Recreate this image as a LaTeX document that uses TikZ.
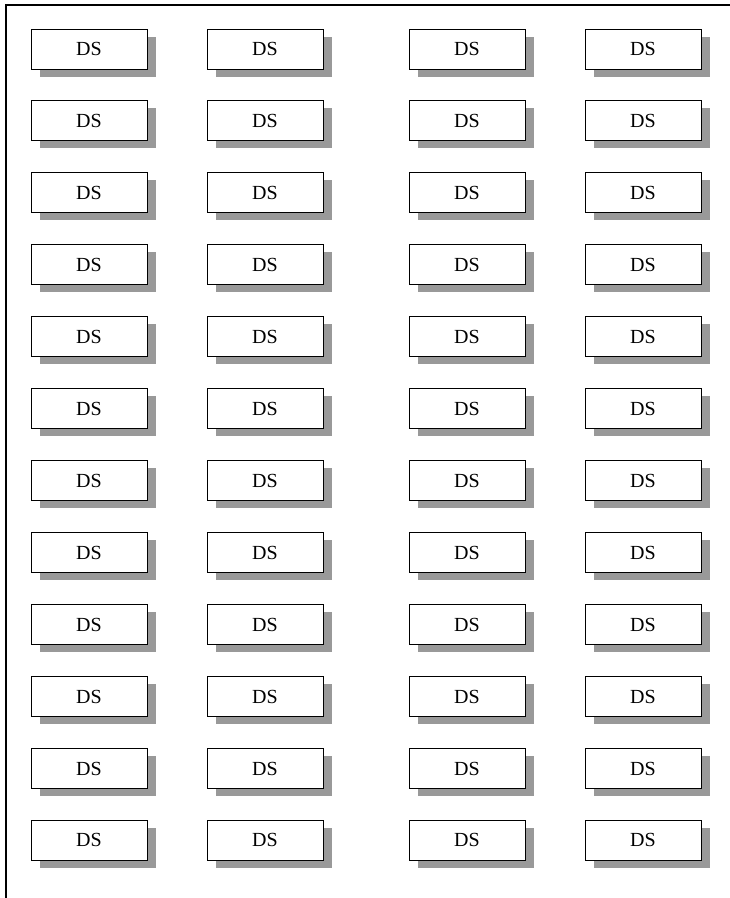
\documentclass[tikz,border=0pt]{standalone}
\usepackage{fontspec}
\setmainfont{Liberation Serif}
\usetikzlibrary{shadows}

\begin{document}
\begin{tikzpicture}[x=1pt,y=-1pt,
  dsbox/.style={draw,line width=1pt,fill=white,minimum width=116pt,minimum height=40pt,inner sep=0pt,
    font=\fontsize{20}{22}\selectfont,
    drop shadow={shadow xshift=9pt,shadow yshift=-7.5pt,fill=black!40,opacity=1}},
  frameline/.style={line width=1.2pt}]
\useasboundingbox (0,0) rectangle (730,898);
\coordinate (fbot) at (6,898);
\coordinate (fcorner) at (6,5);
\coordinate (fright) at (730,5);
\draw[frameline] (fbot)--(fcorner)--(fright);
\foreach \r in {1,...,12}{
  \foreach \c/\x in {1/89,2/265,3/467,4/643}{
    \node[dsbox] (ds-\r-\c) at (\x,{49+71.95*(\r-1)}) {DS};
  }
}
\end{tikzpicture}
\end{document}
